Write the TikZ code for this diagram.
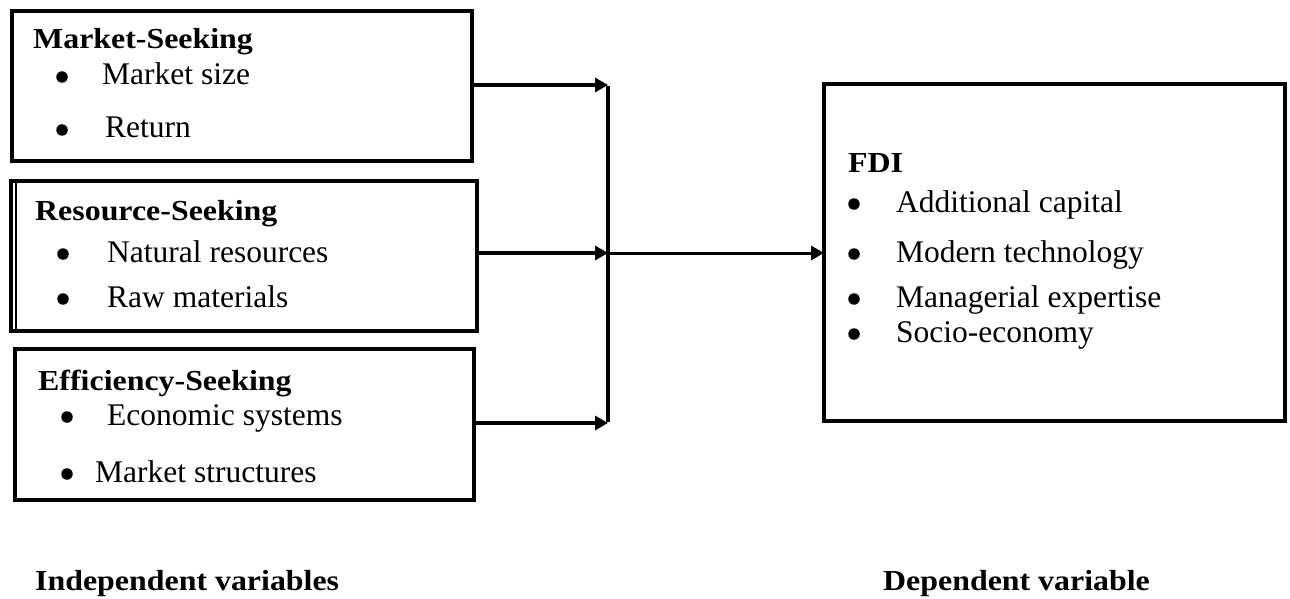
\documentclass[tikz,border=0pt]{standalone}
\usepackage{fontspec}
\setmainfont{Liberation Serif}
\newfontfamily\headfont{Liberation Serif}[FakeStretch=1.1]
\usetikzlibrary{arrows.meta}

\tikzset{
    varbox/.style={draw=black, line width=3.5pt, inner sep=0pt, outer sep=0pt, anchor=north west},
    txt/.style={inner sep=0pt, anchor=base west, font=\fontsize{31.5}{37}\selectfont},
    head/.style={inner sep=0pt, anchor=base west, font=\headfont\fontsize{29}{34}\selectfont\bfseries},
    dot/.style={circle, fill=black, inner sep=0pt, minimum size=11.5pt},
    feed/.style={black, line width=3.5pt, -{Triangle[length=13pt,width=14pt]}},
}

\begin{document}
\begin{tikzpicture}[x=1pt,y=-1pt]
        \useasboundingbox (0,0) rectangle (1290,599);

        % independent variables
        \node[varbox, minimum width=460pt, minimum height=150pt] (market) at (12,11) {};
        \node[varbox, minimum width=466pt, minimum height=150pt] (resource) at (11,181) {};
        \node[varbox, minimum width=459pt, minimum height=151pt] (efficiency) at (15,349) {};
        \draw[black, line width=2pt] ([xshift=5pt]resource.north west) -- ([xshift=5pt]resource.south west);

        \node[head] (mhead) at (33,49) {Market-Seeking};
        \node[dot] (mb1) at (62,77) {};
        \node[txt] (mt1) at (102,85) {Market size};
        \node[dot] (mb2) at (62,130) {};
        \node[txt] (mt2) at (105,138) {Return};

        \node[head] (rhead) at (35,220) {Resource-Seeking};
        \node[dot] (rb1) at (63,254) {};
        \node[txt] (rt1) at (107,262) {Natural resources};
        \node[dot] (rb2) at (63,299) {};
        \node[txt] (rt2) at (107,307) {Raw materials};

        \node[head] (ehead) at (38,390) {Efficiency-Seeking};
        \node[dot] (eb1) at (67,417) {};
        \node[txt] (et1) at (107,425) {Economic systems};
        \node[dot] (eb2) at (67,474) {};
        \node[txt] (et2) at (95,482) {Market structures};

        % dependent variable
        \node[varbox, minimum width=461pt, minimum height=337pt] (fdi) at (824,84) {};
        \node[head] (fhead) at (848,172) {FDI};
        \node[dot] (fb1) at (854,204) {};
        \node[txt] (ft1) at (896,212) {Additional capital};
        \node[dot] (fb2) at (854,254) {};
        \node[txt] (ft2) at (896,262) {Modern technology};
        \node[dot] (fb3) at (854,299) {};
        \node[txt] (ft3) at (896,307) {Managerial expertise};
        \node[dot] (fb4) at (854,334) {};
        \node[txt] (ft4) at (896,342) {Socio-economy};

        % connectors
        \coordinate (j1) at (608,85);
        \coordinate (j2) at (608,253);
        \coordinate (j3) at (608,423);
        \draw[feed] (market.east |- j1) -- (j1);
        \draw[feed] (resource.east |- j2) -- (j2);
        \draw[feed] (efficiency.east |- j3) -- (j3);
        \draw[black, line width=3.5pt] ([yshift=-1.5pt]j1) -- ([yshift=1.5pt]j3);
        \draw[feed, line width=3pt] (j2) -- (fdi.west |- j2);

        \node[head] (indep) at (35,590) {Independent variables};
        \node[head] (dep) at (883,590) {Dependent variable};

    \end{tikzpicture}
\end{document}
